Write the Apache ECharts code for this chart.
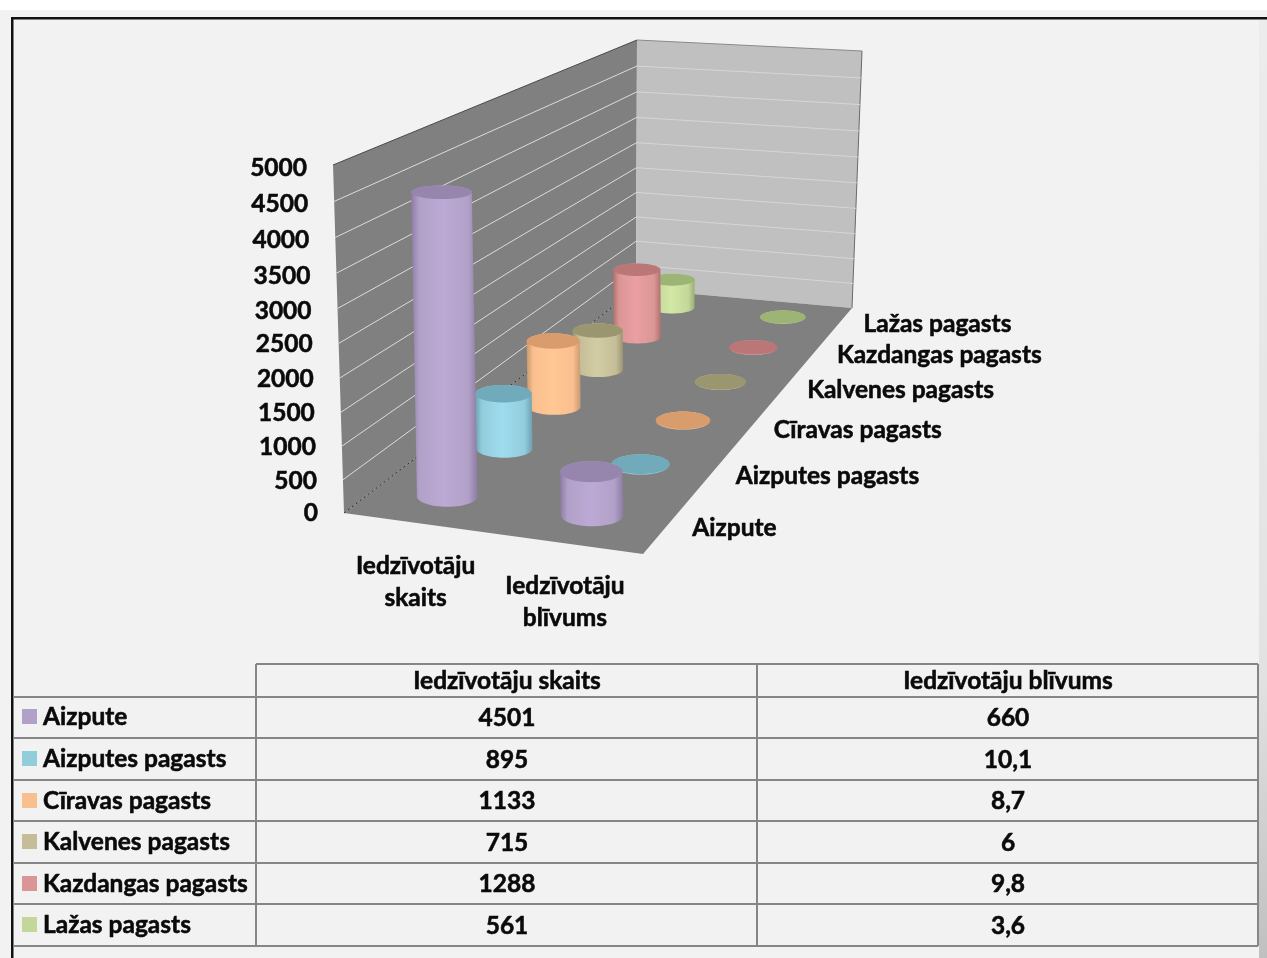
<!DOCTYPE html>
<html><head><meta charset="utf-8">
<style>html,body{margin:0;padding:0;background:#fff}#c{width:1267px;height:958px}</style>
<script src="https://cdn.jsdelivr.net/npm/echarts@6/dist/echarts.min.js"></script>
</head><body><div id="c"></div>
<script>
const measures = ['Iedzīvotāju skaits', 'Iedzīvotāju blīvums'];
const measureAxisLabels = ['Iedzīvotāju\nskaits', 'Iedzīvotāju\nblīvums'];
const locations = ['Aizpute', 'Aizputes pagasts', 'Cīravas pagasts', 'Kalvenes pagasts', 'Kazdangas pagasts', 'Lažas pagasts'];
const skaits = [4501, 895, 1133, 715, 1288, 561];
const blivums = [660, 10.1, 8.7, 6, 9.8, 3.6];
const ticks = [0, 500, 1000, 1500, 2000, 2500, 3000, 3500, 4000, 4500, 5000];
const legendColors = ['#b1a0c7', '#92cddc', '#fabf8f', '#c4bd97', '#da9694', '#c4d79b'];
const bodyLight = ['#bcaad6', '#9fdcee', '#ffc894', '#d2cca4', '#eb9fa2', '#d2e8a4'];
const bodyDark = ['#8c7ca4', '#6d9fb0', '#c6986f', '#9a9474', '#b0706f', '#9cac74'];
const topColors = ['#9686ae', '#70aabb', '#d99d6d', '#9a9770', '#bb7777', '#9cb574'];

const FONT = 'bold 24.5px Lato, "Noto Sans", sans-serif';
const INK = { fill: '#0a0a0a', stroke: '#0a0a0a', lineWidth: 0.55 };
const FLOOR = [[344, 513], [643, 554], [852, 308], [636, 289]];
const CEIL = [[333, 165], [633, 194], [862, 51], [637, 40]];

function homography(q) {
  const [p0, p1, p2, p3] = q;
  const sx = p0[0] - p1[0] + p2[0] - p3[0], sy = p0[1] - p1[1] + p2[1] - p3[1];
  const dx1 = p1[0] - p2[0], dx2 = p3[0] - p2[0], dy1 = p1[1] - p2[1], dy2 = p3[1] - p2[1];
  const det = dx1 * dy2 - dx2 * dy1;
  const g = (sx * dy2 - dx2 * sy) / det, h = (dx1 * sy - sx * dy1) / det;
  const a = p1[0] - p0[0] + g * p1[0], b = p3[0] - p0[0] + h * p3[0];
  const d = p1[1] - p0[1] + g * p1[1], e = p3[1] - p0[1] + h * p3[1];
  return (u, v) => {
    const w = 1 + g * u + h * v;
    return [(a * u + b * v + p0[0]) / w, (d * u + e * v + p0[1]) / w, w];
  };
}
const Hf = homography(FLOOR), Hc = homography(CEIL);
function persp(t) { const s = 0.95; return s * t / (1 + (s - 1) * t); }
function proj(u, v, t) {
  const a = Hf(u, v), b = Hc(u, v), k = persp(t);
  return [a[0] + (b[0] - a[0]) * k, a[1] + (b[1] - a[1]) * k];
}
function fraction(api, value) {
  const y0 = api.coord([0, 0])[1], y1 = api.coord([0, 5000])[1];
  return (y0 - api.coord([0, value])[1]) / (y0 - y1);
}
function ellipsePts(cx, cy, rx, ry, a0, a1, n) {
  const out = [];
  for (let i = 0; i <= n; i++) {
    const a = a0 + (a1 - a0) * i / n;
    out.push([cx + rx * Math.cos(a), cy + ry * Math.sin(a)]);
  }
  return out;
}
function line(p, q, stroke, width, dash) {
  return { type: 'line', shape: { x1: p[0], y1: p[1], x2: q[0], y2: q[1] },
    style: { stroke, lineWidth: width, lineDash: dash || null }, silent: true };
}
function text(str, x, y, align) {
  return { type: 'text', silent: true, x: 0, y: 0,
    style: Object.assign({ text: str, x, y, font: FONT, align, verticalAlign: 'middle', lineHeight: 32 }, INK) };
}

function renderWalls() {
  const poly = (pts, fill) => ({ type: 'polygon', shape: { points: pts }, style: { fill }, silent: true });
  const a = proj(0, 0, 0), b = proj(0, 0, 1), c = proj(0, 1, 1), d = proj(0, 1, 0);
  const e = proj(1, 1, 1), f = proj(1, 1, 0), g = proj(1, 0, 0);
  return { type: 'group', children: [
    poly([a, b, c, d], '#808080'),
    poly([d, c, e, f], '#c0c0c0'),
    poly([a, g, f, d], '#808080'),
    line(b, c, '#4a4a4a', 1),
    line(c, e, '#8a8a8a', 1),
    line(e, f, '#6a6a6a', 1)
  ] };
}
function renderTick(params, api) {
  const value = api.value(1), t = fraction(api, value);
  const a = proj(0, 0, t), b = proj(0, 1, t), c = proj(1, 1, t);
  const children = [text(String(value), a[0] - 26, a[1] + (t > 0.5 ? 3 : 1) - (t === 0 ? 1 : 0), 'right')];
  if (t === 0) children.push(line(a, b, '#2e2e2e', 1, [2, 3]));
  else if (t < 1) {
    children.push(line(a, b, '#dcdcdc', 1));
    children.push(line(b, c, '#d6d6d6', 1));
  }
  return { type: 'group', children };
}
function renderDepthLabel(params, api) {
  const i = api.value(2), v = (i + 0.5) / locations.length, p = Hf(1.09, v);
  return text(locations[i], p[0] - 3.5 + 7 * v, p[1] - 0.5, 'left');
}
function renderMeasureLabel(params, api) {
  const m = api.value(0), p = Hf((m + 0.5) / measures.length, 0);
  return text(measureAxisLabels[m], p[0], p[1] + 59, 'center');
}
function renderCylinder(params, api) {
  const m = api.value(0), value = api.value(1), i = api.value(2);
  const u = (m + 0.5) / measures.length, v = (i + 0.5) / locations.length;
  const t = fraction(api, value);
  const base = Hf(u, v), top = proj(u, v, t), w = base[2];
  const rx = 31 / w, ryB = 11 / Math.pow(w, 1.7), ryT = ryB * (1 - 0.4 * t);
  const tx = base[0] - 7 * t * (1 - v), ty = top[1];
  const pts = ellipsePts(base[0], base[1], rx, ryB, 0, Math.PI, 30)
    .concat(ellipsePts(tx, ty, rx, ryT, Math.PI, 2 * Math.PI, 30));
  const fill = new echarts.graphic.LinearGradient(0, 0, 1, 0, [
    { offset: 0, color: bodyDark[i] }, { offset: 0.12, color: legendColors[i] },
    { offset: 0.48, color: bodyLight[i] }, { offset: 0.86, color: legendColors[i] },
    { offset: 1, color: bodyDark[i] }
  ]);
  return { type: 'group', children: [
    { type: 'polygon', shape: { points: pts }, style: { fill }, silent: true },
    { type: 'polygon', shape: { points: ellipsePts(tx, ty, rx, ryT, 0, 2 * Math.PI, 60) },
      style: { fill: topColors[i] }, silent: true }
  ] };
}

const hidden = { show: false };
const base2d = { type: 'custom', coordinateSystem: 'cartesian2d', silent: true, animation: false, clip: false };
const cylinderSeries = locations.map((name, i) => Object.assign({}, base2d, {
  name, z: 20 - i, renderItem: renderCylinder,
  data: [[0, skaits[i], i], [1, blivums[i], i]]
}));

/* table and page furniture */
const tableLines = [664, 697, 738, 780, 821, 863, 904, 946];
const tableCols = [13, 256, 757, 1258];
const measureCenters = [507, 1008];
const labelRows = [716, 758, 800, 841, 883, 924];
const dataRows = [717, 759, 800, 842, 883, 925];
const headerRow = 680;
const fmt = n => String(n).replace('.', ',');
const g = [];
const rect = (x, y, width, height, fill) => ({ type: 'rect', shape: { x, y, width, height }, style: { fill }, silent: true });
g.push(rect(0, 10, 1267, 948, '#f2f2f2'));
g.push(rect(1259, 20, 8, 938, new echarts.graphic.LinearGradient(0, 0, 0, 1, [
  { offset: 0, color: '#ececec' }, { offset: 0.7, color: '#e2e2e2' }, { offset: 1, color: '#c0c0c0' }])));
g.push(rect(11, 17, 1256, 2.5, '#111'));
g.push(rect(11, 17, 2.5, 941, '#111'));
const gl = (x1, y1, x2, y2) => ({ type: 'line', shape: { x1, y1, x2, y2 }, style: { stroke: '#868686', lineWidth: 2 }, silent: true });
tableLines.forEach((y, k) => g.push(gl(k === 0 ? tableCols[1] : tableCols[0], y, tableCols[3], y)));
tableCols.slice(1).forEach(x => g.push(gl(x, tableLines[0], x, tableLines[7])));
const gt = (str, x, y, align) => ({ type: 'text', silent: true, style: Object.assign({ text: str, x, y: y + 1, font: FONT, align, verticalAlign: 'middle' }, INK) });
measures.forEach((mname, m) => g.push(gt(mname, measureCenters[m], headerRow, 'center')));
locations.forEach((name, i) => {
  g.push(rect(22, labelRows[i] - 7, 15, 15, legendColors[i]));
  g.push(gt(name, 43, labelRows[i], 'left'));
  g.push(gt(fmt(skaits[i]), measureCenters[0], dataRows[i], 'center'));
  g.push(gt(fmt(blivums[i]), measureCenters[1], dataRows[i], 'center'));
});

const chart = echarts.init(document.getElementById('c'), null, { renderer: 'canvas' });
chart.setOption({
  animation: false,
  backgroundColor: '#ffffff',
  textStyle: { fontFamily: 'Lato' },
  grid: { left: 333, top: 165, width: 300, height: 348 },
  xAxis: Object.assign({ type: 'category', data: measures }, hidden),
  yAxis: Object.assign({ type: 'value', min: 0, max: 5000, interval: 500 }, hidden),
  graphic: { elements: g },
  series: [
    Object.assign({}, base2d, { name: 'walls', z: 3, renderItem: renderWalls, data: [[0, 0]] }),
    Object.assign({}, base2d, { name: 'ticks', z: 4, renderItem: renderTick, data: ticks.map(t => [0, t]) }),
    Object.assign({}, base2d, { name: 'depth labels', z: 5, renderItem: renderDepthLabel, data: locations.map((n, i) => [0, 0, i]) }),
    Object.assign({}, base2d, { name: 'measure labels', z: 5, renderItem: renderMeasureLabel, data: measures.map((n, m) => [m, 0]) })
  ].concat(cylinderSeries)
});
</script></body></html>
